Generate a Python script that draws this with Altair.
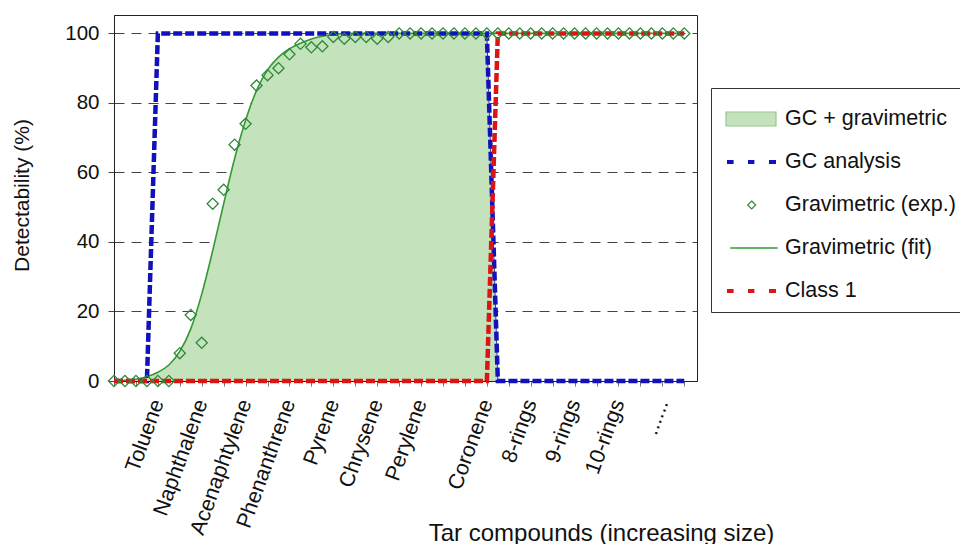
import altair as alt
import pandas as pd

FONT = "Liberation Sans"
TXT = "#111111"
BLUE = "#1212bd"
RED = "#dd1414"
GREEN_PT = "#2f8a3a"
GREEN_LN = "#339933"
AREA_FILL = "#c4e3bc"

# ---------------- data ----------------
x_pos = [0, 0.5, 1, 1.5, 2, 2.5, 3, 3.5, 4, 4.5, 5, 5.5, 6, 6.5, 7, 7.5, 8, 8.5,
         9, 9.5, 10, 10.5, 11, 11.5, 12, 12.5, 13, 13.5, 14, 14.5, 15, 15.5, 16,
         16.5, 17, 17.5, 18, 18.5, 19, 19.5, 20, 20.5, 21, 21.5, 22, 22.5, 23,
         23.5, 24, 24.5, 25, 25.5, 26]

grav_exp = [0, 0, 0, 0, 0, 0, 8, 19, 11, 51, 55, 68, 74, 85, 88, 90, 94, 97,
            96, 96.3, 99, 98.5, 99, 99, 98.5, 99, 100, 100, 100, 100, 100, 100, 100,
            100, 100, 100, 100, 100, 100, 100, 100, 100, 100, 100, 100, 100, 100,
            100, 100, 100, 100, 100, 100]

grav_fit = [0, 0.2, 0.5, 1.2, 2.5, 4.6, 8.5, 15, 25, 37.5, 51, 64, 75, 83.6, 89.5,
            93.2, 95.6, 97.2, 98.4, 99.2, 99.7, 100, 100, 100, 100, 100, 100, 100,
            100, 100, 100, 100, 100, 100, 100, 100, 100, 100, 100, 100, 100, 100,
            100, 100, 100, 100, 100, 100, 100, 100, 100, 100, 100]

gc_x = [0, 1.5, 2, 17, 17.5, 26]
gc_y = [0, 0, 100, 100, 0, 0]

class1_x = [0, 17, 17.5, 26]
class1_y = [0, 0, 100, 100]

tick_values = [0, 1, 2, 3, 4, 5, 6, 7, 8, 9, 10, 11, 12, 13, 14, 15, 16, 17, 18,
               19, 20, 21, 22, 23, 24, 25, 26]
label_pos = [2, 4, 6, 8, 10, 12, 14, 17, 19, 21, 23, 25]
label_names = ["Toluene", "Naphthalene", "Acenaphtylene", "Phenanthrene", "Pyrene",
               "Chrysene", "Perylene", "Coronene", "8-rings", "9-rings", "10-rings",
               "......"]

y_ticks = [0, 20, 40, 60, 80, 100]

series_names = ["GC + gravimetric", "GC analysis", "Gravimetric (exp.)",
                "Gravimetric (fit)", "Class 1"]

# ---------------- tables ----------------
exp_df = pd.DataFrame({"x": x_pos, "y": grav_exp})
fit_df = pd.DataFrame({"x": x_pos, "y": grav_fit})
gc_df = pd.DataFrame({"x": gc_x, "y": gc_y})
class1_df = pd.DataFrame({"x": class1_x, "y": class1_y})
# shaded region: under the fit until the GC drop
area_df = pd.concat([fit_df[fit_df.x <= gc_x[3]], gc_df[gc_df.x == gc_x[4]]])
edge_df = gc_df[(gc_df.x >= gc_x[3]) & (gc_df.x <= gc_x[4])]
legend_df = pd.DataFrame({"series": series_names,
                          "x": [None] * len(series_names),
                          "y": [None] * len(series_names)})

lab_arr = [""] * len(tick_values)
for p, n in zip(label_pos, label_names):
    lab_arr[p] = n
label_expr = "[" + ",".join("'" + s + "'" for s in lab_arr) + "][datum.value]"

x_enc = alt.X("x:Q",
              scale=alt.Scale(domain=[0, 26.58], nice=False, zero=False),
              axis=alt.Axis(values=tick_values, labelExpr=label_expr,
                            labelAngle=290, labelAlign="right", labelBaseline="middle",
                            labelPadding=14, labelFontSize=21.5, labelFont=FONT,
                            labelColor=TXT, labelOverlap=False, labelFlush=False,
                            labelBound=False,
                            tickSize=5, tickColor="#777777", domainColor="#222222",
                            grid=False,
                            title="Tar compounds (increasing size)",
                            titleFont=FONT, titleFontSize=24, titleFontWeight="normal",
                            titleColor=TXT, titleX=487, titleY=159,
                            titleAlign="center", titleBaseline="alphabetic"))

y_enc = alt.Y("y:Q",
              scale=alt.Scale(domain=[0, 105.3], nice=False),
              axis=alt.Axis(values=y_ticks, grid=True, gridDash=[10, 7],
                            gridColor="#444444", gridWidth=1,
                            tickSize=6, tickColor="#444444", domainColor="#222222",
                            labelPadding=9, labelFontSize=20.5, labelFont=FONT,
                            labelColor=TXT,
                            title="Detectability (%)", titleFont=FONT,
                            titleFontSize=21, titleFontWeight="normal",
                            titleColor=TXT, titleX=-92, titleY=180, titleAngle=270,
                            titleAlign="center", titleBaseline="middle"))

area = alt.Chart(area_df).mark_area(color=AREA_FILL, opacity=1,
                                    interpolate="linear").encode(x=x_enc, y=y_enc)
edge = alt.Chart(edge_df).mark_line(color="#444444", strokeWidth=1).encode(x=x_enc, y=y_enc)
fit = alt.Chart(fit_df).mark_line(color=GREEN_LN, strokeWidth=1.6,
                                  interpolate="monotone").encode(x=x_enc, y=y_enc)
gc = alt.Chart(gc_df).mark_line(color=BLUE, strokeWidth=4.5, strokeDash=[9, 3],
                                strokeCap="butt").encode(x=x_enc, y=y_enc)
cl1 = alt.Chart(class1_df).mark_line(color=RED, strokeWidth=4.5, strokeDash=[9, 3],
                                     strokeCap="butt").encode(x=x_enc, y=y_enc)
pts = alt.Chart(exp_df).mark_point(shape="diamond", size=125, filled=False,
                                   color=GREEN_PT, strokeWidth=1.3,
                                   opacity=1).encode(x=x_enc, y=y_enc)

# legend symbols (custom paths, unit = 20 px)
sym_paths = [
    "M-0.8,-0.35H1.7V0.35H-0.8Z",
    "M-0.75,-0.1H-0.42V0.1H-0.75Z M0.3,-0.1H0.62V0.1H0.3Z M1.35,-0.1H1.7V0.1H1.35Z",
    "M0.485,-0.2L0.685,0L0.485,0.2L0.285,0Z",
    "M-0.585,-0.035H1.785V0.035H-0.585Z",
    "M-0.75,-0.1H-0.42V0.1H-0.75Z M0.3,-0.1H0.62V0.1H0.3Z M1.35,-0.1H1.7V0.1H1.35Z",
]
sym_fill = [AREA_FILL, BLUE, "transparent", GREEN_LN, RED]
sym_stroke = ["#9cc494", "transparent", GREEN_PT, "transparent", "transparent"]

leg = alt.Legend(title=None, orient="none", legendX=597, legendY=73, padding=10,
                 rowPadding=11, symbolSize=1600, labelOffset=22, labelFontSize=21.5,
                 labelFont=FONT, labelColor=TXT, labelLimit=400,
                 strokeColor="#333333", fillColor="white", symbolStrokeWidth=1.2,
                 cornerRadius=0)

legend_layer = alt.Chart(legend_df).mark_point(opacity=1).encode(
    x=x_enc, y=y_enc,
    fill=alt.Fill("series:N", scale=alt.Scale(domain=series_names, range=sym_fill), legend=leg),
    stroke=alt.Stroke("series:N", scale=alt.Scale(domain=series_names, range=sym_stroke), legend=leg),
    shape=alt.Shape("series:N", scale=alt.Scale(domain=series_names, range=sym_paths), legend=leg),
)

chart = alt.layer(area, edge, fit, gc, cl1, pts, legend_layer).properties(
    width=583, height=366,
    autosize=alt.AutoSizeParams(type="none"),
    padding={"left": 114, "top": 15, "right": 263, "bottom": 163},
    background="white",
).configure_view(stroke="#222222", strokeWidth=1)

chart.save("out.html", embed_options={"renderer": "svg", "actions": False})
